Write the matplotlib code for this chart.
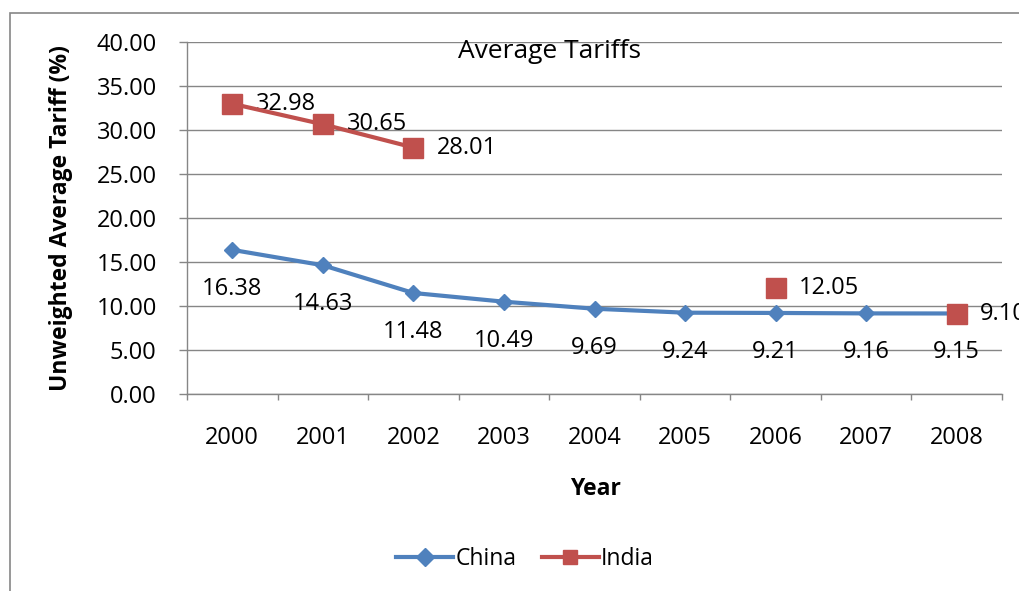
import numpy as np
import matplotlib
matplotlib.use("Agg")
import matplotlib.pyplot as plt
from matplotlib.patches import Rectangle
from matplotlib.lines import Line2D

years = ["2000", "2001", "2002", "2003", "2004", "2005", "2006", "2007", "2008"]
china = [16.38, 14.63, 11.48, 10.49, 9.69, 9.24, 9.21, 9.16, 9.15]
india = [32.98, 30.65, 28.01, np.nan, np.nan, np.nan, 12.05, np.nan, 9.10]

plt.rcParams["font.family"] = ["Open Sans", "DejaVu Sans"]
FS = 17
GRID = "#868686"
BLUE = "#4F81BD"
RED = "#C0504D"

fig = plt.figure(figsize=(10.2, 5.91), dpi=100)
fig.patch.set_facecolor("white")

# chart frame
fig.patches.append(Rectangle((10 / 1020, -0.2), 1.2, 1.2 - 13 / 591,
                             transform=fig.transFigure, fill=False,
                             edgecolor=GRID, linewidth=1.2))

ax = fig.add_axes([187 / 1020, 1 - 394 / 591, (1002 - 187) / 1020, (394 - 42) / 591])
x = np.arange(len(years))

ax.set_ylim(0, 40)
ax.set_xlim(-0.5, len(years) - 0.5)
ax.set_yticks(np.arange(0, 41, 5))
ax.set_yticklabels([f"{v:.2f}" for v in np.arange(0, 41, 5)], fontsize=FS)
ax.yaxis.grid(True, color=GRID, linewidth=1.0)
ax.set_axisbelow(True)

ax.set_xticks(np.arange(-0.5, len(years), 1.0))
ax.set_xticklabels([])
ax.set_xticks(x, minor=True)
ax.set_xticklabels(years, minor=True, fontsize=FS)
ax.tick_params(axis="x", which="major", length=4.3, color=GRID, width=1.0)
ax.tick_params(axis="x", which="minor", length=0, pad=23)
ax.tick_params(axis="y", length=5.8, color=GRID, width=1.0, pad=16)

for s in ["top", "right"]:
    ax.spines[s].set_visible(False)
for s in ["left", "bottom"]:
    ax.spines[s].set_color(GRID)
    ax.spines[s].set_linewidth(1.0)

ax.plot(x, china, color=BLUE, linewidth=3, marker="D", markersize=8.5,
        markerfacecolor=BLUE, markeredgecolor=BLUE, clip_on=False, zorder=3)
ax.plot(x, india, color=RED, linewidth=3, marker="s", markersize=14,
        markerfacecolor=RED, markeredgecolor=RED, clip_on=False, zorder=4)

for xi, v in zip(x, china):
    ax.annotate(f"{v:.2f}", (xi, v), textcoords="offset points", xytext=(0, -28),
                ha="center", va="center", fontsize=FS, annotation_clip=False)
for xi, v in zip(x, india):
    if not np.isnan(v):
        ax.annotate(f"{v:.2f}", (xi, v), textcoords="offset points", xytext=(17, 0),
                    ha="left", va="center", fontsize=FS, annotation_clip=False)

fig.text(550 / 1020, 1 - 52 / 591, "Average Tariffs", ha="center", va="center",
         fontsize=19)

fig.text(61 / 1020, 1 - 218 / 591, "Unweighted Average Tariff (%)", rotation=90,
         ha="center", va="center", fontsize=16.5, fontweight="bold")

fig.text(595 / 1020, 1 - 489 / 591, "Year", ha="center", va="center",
         fontsize=16.5, fontweight="bold")

handles = [
    Line2D([], [], color=BLUE, linewidth=3, marker="D", markersize=9,
           markerfacecolor=BLUE, markeredgecolor=BLUE),
    Line2D([], [], color=RED, linewidth=3, marker="s", markersize=10,
           markerfacecolor=RED, markeredgecolor=RED),
]
fig.legend(handles, ["China", "India"], loc="center",
           bbox_to_anchor=(525 / 1020, 1 - 559 / 591), ncol=2,
           frameon=False, fontsize=16.5, handlelength=2.5, handletextpad=0.1,
           columnspacing=1.1)

fig.savefig("out.png", dpi=100, facecolor="white")
